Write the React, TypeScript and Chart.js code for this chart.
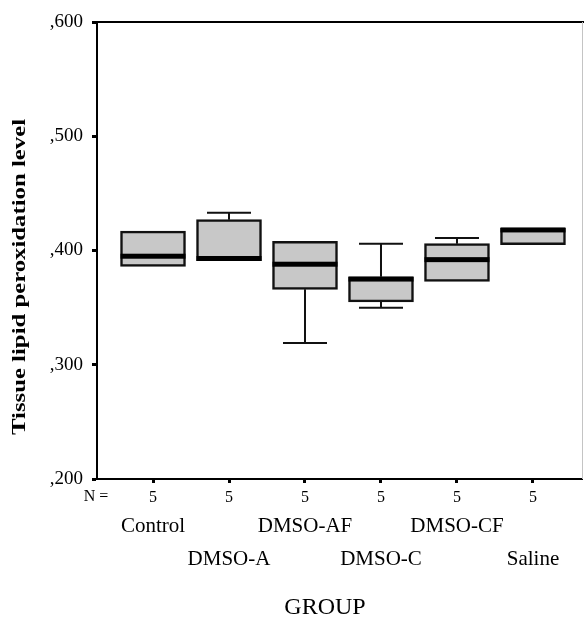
import React, { useEffect, useRef } from "react";
import { Chart, registerables } from "chart.js";

Chart.register(...registerables);

const CATEGORIES = ["Control", "DMSO-A", "DMSO-AF", "DMSO-C", "DMSO-CF", "Saline"];
const N_COUNTS = [5, 5, 5, 5, 5, 5];
const MIN_V = [0.386, 0.391, 0.319, 0.350, 0.373, 0.405];
const Q1_V = [0.386, 0.391, 0.366, 0.355, 0.373, 0.405];
const MED_V = [0.395, 0.393, 0.388, 0.375, 0.392, 0.418];
const Q3_V = [0.417, 0.427, 0.408, 0.377, 0.406, 0.4195];
const MAX_V = [0.417, 0.433, 0.408, 0.406, 0.411, 0.4195];
const Y_TICKS = [0.2, 0.3, 0.4, 0.5, 0.6];

const Y_TITLE = "Tissue lipid peroxidation level";
const X_TITLE = "GROUP";
const N_LABEL = "N =";

const SERIF = "'Liberation Serif', 'Times New Roman', serif";
const X_MIN = -0.737;
const X_MAX = 5.645;

const boxExtras = {
  id: "boxExtras",
  beforeDatasetsDraw(chart: any) {
    const { ctx } = chart;
    const xs = chart.scales.x;
    const ys = chart.scales.y;
    ctx.save();
    ctx.strokeStyle = "#111";
    ctx.lineWidth = 2;
    CATEGORIES.forEach((_, i) => {
      const x = xs.getPixelForValue(i);
      const cap = 22;
      if (MAX_V[i] > Q3_V[i]) {
        const yt = ys.getPixelForValue(MAX_V[i]);
        const yb = ys.getPixelForValue(Q3_V[i]);
        ctx.beginPath();
        ctx.moveTo(x, yb);
        ctx.lineTo(x, yt);
        ctx.moveTo(x - cap, yt);
        ctx.lineTo(x + cap, yt);
        ctx.stroke();
      }
      if (MIN_V[i] < Q1_V[i]) {
        const yt = ys.getPixelForValue(Q1_V[i]);
        const yb = ys.getPixelForValue(MIN_V[i]);
        ctx.beginPath();
        ctx.moveTo(x, yt);
        ctx.lineTo(x, yb);
        ctx.moveTo(x - cap, yb);
        ctx.lineTo(x + cap, yb);
        ctx.stroke();
      }
    });
    ctx.restore();
  },
  afterDatasetsDraw(chart: any) {
    const { ctx, chartArea } = chart;
    const xs = chart.scales.x;
    const ys = chart.scales.y;
    const meta = chart.getDatasetMeta(0);
    ctx.save();
    ctx.fillStyle = "#000";
    CATEGORIES.forEach((_, i) => {
      const x = xs.getPixelForValue(i);
      const w = meta.data[i] ? meta.data[i].width : 65;
      const y = ys.getPixelForValue(MED_V[i]);
      ctx.fillRect(x - w / 2, y - 2.5, w, 5);
    });
    ctx.strokeStyle = "#000";
    ctx.lineWidth = 2;
    ctx.beginPath();
    ctx.moveTo(chartArea.left - 5, chartArea.top);
    ctx.lineTo(chart.width, chartArea.top);
    ctx.stroke();
    ctx.strokeStyle = "#c4c4c4";
    ctx.lineWidth = 1;
    ctx.beginPath();
    ctx.moveTo(chartArea.right + 0.5, chartArea.top);
    ctx.lineTo(chartArea.right + 0.5, chartArea.bottom);
    ctx.stroke();
    ctx.restore();
  },
  afterDraw(chart: any) {
    const { ctx } = chart;
    ctx.save();
    ctx.fillStyle = "#000";
    ctx.textAlign = "center";
    ctx.textBaseline = "middle";
    ctx.font = `16px ${SERIF}`;
    ctx.fillText(N_LABEL, 96, 497);
    ctx.font = `24px ${SERIF}`;
    ctx.fillText(X_TITLE, 325, 608);
    ctx.font = `bold 19px ${SERIF}`;
    const w = ctx.measureText(Y_TITLE).width;
    const target = 316;
    ctx.translate(20, 277);
    ctx.rotate(-Math.PI / 2);
    ctx.scale(target / w, 1);
    ctx.fillText(Y_TITLE, 0, 0);
    ctx.restore();
  },
};

export default function App() {
  const ref = useRef<HTMLCanvasElement | null>(null);

  useEffect(() => {
    if (!ref.current) return;
    const intTicks = (scale: any) => {
      scale.ticks = CATEGORIES.map((_, i) => ({ value: i }));
    };
    const chart = new Chart(ref.current, {
      type: "bar",
      data: {
        datasets: [
          {
            data: CATEGORIES.map((_, i) => ({ x: i, y: [Q1_V[i], Q3_V[i]] })) as any,
            backgroundColor: "#c8c8c8",
            borderColor: "#111",
            borderWidth: 2.5,
            borderSkipped: false,
            barThickness: 65,
            xAxisID: "x",
            yAxisID: "y",
          },
        ],
      },
      options: {
        responsive: false,
        animation: false,
        devicePixelRatio: 1,
        layout: { padding: { left: 0, right: 2, top: 22, bottom: 0 } },
        plugins: {
          legend: { display: false },
          tooltip: { enabled: false },
          title: { display: false },
        },
        scales: {
          x: {
            type: "linear",
            position: "bottom",
            weight: 0,
            offset: false,
            min: X_MIN,
            max: X_MAX,
            afterBuildTicks: intTicks,
            afterFit: (s: any) => {
              s.height = 30;
            },
            grid: {
              display: true,
              offset: false,
              drawOnChartArea: false,
              drawTicks: true,
              tickLength: 4,
              tickWidth: 3,
              color: "#000",
            },
            border: { display: true, color: "#000", width: 2 },
            ticks: {
              autoSkip: false,
              maxRotation: 0,
              minRotation: 0,
              padding: 5,
              color: "#000",
              font: { family: SERIF, size: 16 },
              callback: (v: any) => String(N_COUNTS[Math.round(v)]),
            },
          },
          x2: {
            type: "linear",
            position: "bottom",
            weight: 1,
            offset: false,
            min: X_MIN,
            max: X_MAX,
            afterBuildTicks: intTicks,
            afterFit: (s: any) => {
              s.height = 111;
            },
            grid: { display: false, offset: false, drawTicks: false, drawOnChartArea: false },
            border: { display: false },
            ticks: {
              autoSkip: false,
              maxRotation: 0,
              minRotation: 0,
              padding: 1,
              color: "#000",
              font: { family: SERIF, size: 21, lineHeight: "33px" },
              callback: (v: any) => {
                const i = Math.round(v);
                return i % 2 === 0 ? [CATEGORIES[i]] : ["", CATEGORIES[i]];
              },
            },
          },
          y: {
            type: "linear",
            min: 0.2,
            max: 0.6,
            afterBuildTicks: (s: any) => {
              s.ticks = Y_TICKS.map((v) => ({ value: v }));
            },
            afterFit: (s: any) => {
              s.width = 97;
            },
            grid: {
              display: true,
              drawOnChartArea: false,
              drawTicks: true,
              tickLength: 5,
              tickWidth: 3,
              color: "#000",
            },
            border: { display: true, color: "#000", width: 2 },
            ticks: {
              padding: 9,
              color: "#000",
              font: { family: SERIF, size: 19 },
              callback: (v: any) => Number(v).toFixed(3).replace("0.", ","),
            },
          },
        },
      },
      plugins: [boxExtras],
    });
    return () => chart.destroy();
  }, []);

  return (
    <div style={{ position: "absolute", left: 0, top: 0, width: 584, height: 620, background: "#fff" }}>
      <canvas ref={ref} width={584} height={620} style={{ display: "block", width: 584, height: 620 }} />
    </div>
  );
}
